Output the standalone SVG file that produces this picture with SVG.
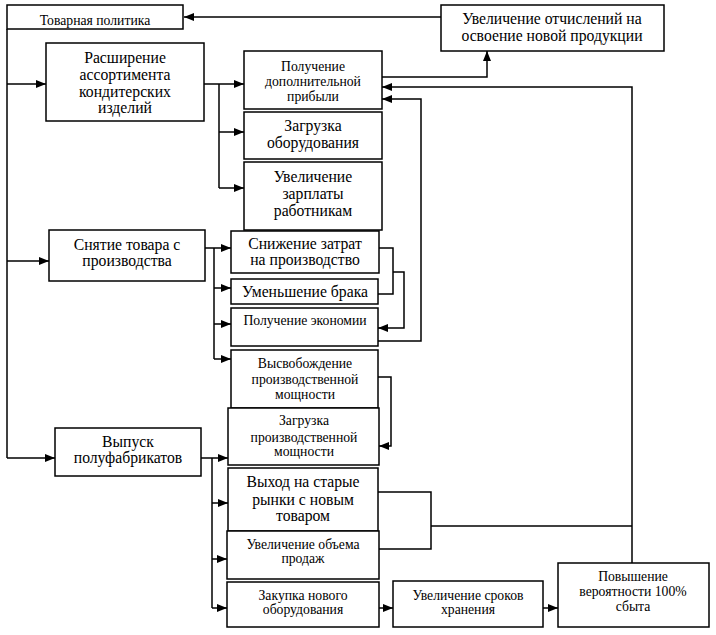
<svg xmlns="http://www.w3.org/2000/svg" width="716" height="635" viewBox="0 0 716 635">
<style>
.b{fill:#fff;stroke:#000;stroke-width:1.5}
.t{font-family:'Liberation Serif','Times New Roman',serif;font-size:15.7px;text-anchor:middle;fill:#000}
.s{font-size:13.7px}
.c path{fill:none;stroke:#000;stroke-width:1.5}
.a{marker-end:url(#ah)}
</style>
<defs>
<marker id="ah" markerUnits="userSpaceOnUse" markerWidth="10" markerHeight="8" refX="10" refY="4" orient="auto">
<path d="M0,0 L10,4 L0,8 z" fill="#000"/>
</marker>
</defs>
<rect width="716" height="635" fill="#fff"/>
<g class="c" id="connectors">
<path class="a" d="M441,17 H184"/>
<path d="M7,29 V458"/>
<path class="a" d="M7,84 H46"/>
<path class="a" d="M7,261 H49"/>
<path class="a" d="M7,458 H55"/>
<path class="a" d="M204,84 H244"/>
<path d="M219,84 V188"/>
<path class="a" d="M219,132 H244"/>
<path class="a" d="M219,188 H244"/>
<path class="a" d="M382,77 H487 V51"/>
<path class="a" d="M632,563 V87 H382"/>
<path d="M378,492 H431 V549 H379"/>
<path d="M431,526 H632"/>
<path class="a" d="M205,248 H231"/>
<path d="M214,248 V359"/>
<path class="a" d="M214,288 H231"/>
<path class="a" d="M214,324 H231"/>
<path class="a" d="M214,359 H231"/>
<path d="M379,248 H393 V294 H378"/>
<path class="a" d="M393,272 H404 V328 H378"/>
<path class="a" d="M378,341 H421 V99 H382"/>
<path class="a" d="M378,377 H391 V446 H379"/>
<path class="a" d="M201,458 H228"/>
<path d="M212,458 V608"/>
<path class="a" d="M212,503 H228"/>
<path class="a" d="M212,559 H227"/>
<path class="a" d="M212,608 H227"/>
<path class="a" d="M379,608 H393"/>
<path class="a" d="M543,608 H558"/>
</g>
<g id="n1"><rect class="b" x="7" y="5" width="176" height="24"/><text class="t s" x="95" y="25">Товарная политика</text></g>
<g id="n2"><rect class="b" x="441" y="5" width="223" height="46"/><text class="t" x="552" y="24">Увеличение отчислений на</text><text class="t" x="552" y="41">освоение новой продукции</text></g>
<g id="n3"><rect class="b" x="46" y="43" width="158" height="78"/><text class="t" x="125" y="63">Расширение</text><text class="t" x="125" y="80">ассортимента</text><text class="t" x="125" y="97">кондитерских</text><text class="t" x="125" y="113">изделий</text></g>
<g id="n4"><rect class="b" x="244" y="51" width="138" height="58"/><text class="t s" x="313" y="71">Получение</text><text class="t s" x="313" y="86">дополнительной</text><text class="t s" x="313" y="101">прибыли</text></g>
<g id="n5"><rect class="b" x="244" y="112" width="138" height="47"/><text class="t" x="313" y="131">Загрузка</text><text class="t" x="313" y="148">оборудования</text></g>
<g id="n6"><rect class="b" x="244" y="162" width="138" height="68"/><text class="t" x="313" y="182">Увеличение</text><text class="t" x="313" y="199">зарплаты</text><text class="t" x="313" y="216">работникам</text></g>
<g id="n7"><rect class="b" x="49" y="230" width="156" height="51"/><text class="t" x="127" y="250">Снятие товара с</text><text class="t" x="127" y="266">производства</text></g>
<g id="n8"><rect class="b" x="231" y="231" width="148" height="42"/><text class="t" x="305" y="249">Снижение затрат</text><text class="t" x="305" y="265">на производство</text></g>
<g id="n9"><rect class="b" x="231" y="279" width="147" height="25"/><text class="t" x="305" y="297">Уменьшение брака</text></g>
<g id="n10"><rect class="b" x="231" y="308" width="147" height="38"/><text class="t s" x="305" y="325">Получение экономии</text></g>
<g id="n11"><rect class="b" x="231" y="350" width="147" height="58"/><text class="t s" x="305" y="368">Высвобождение</text><text class="t s" x="305" y="384">производственной</text><text class="t s" x="305" y="399">мощности</text></g>
<g id="n12"><rect class="b" x="228" y="408" width="151" height="57"/><text class="t s" x="304" y="425">Загрузка</text><text class="t s" x="304" y="442">производственной</text><text class="t s" x="304" y="456">мощности</text></g>
<g id="n13"><rect class="b" x="55" y="428" width="146" height="48"/><text class="t" x="128" y="447">Выпуск</text><text class="t" x="128" y="463">полуфабрикатов</text></g>
<g id="n14"><rect class="b" x="228" y="468" width="150" height="63"/><text class="t" x="303" y="487">Выход на старые</text><text class="t" x="303" y="505">рынки с новым</text><text class="t" x="303" y="521">товаром</text></g>
<g id="n15"><rect class="b" x="227" y="531" width="152" height="48"/><text class="t s" x="303" y="549">Увеличение объема</text><text class="t s" x="303" y="563">продаж</text></g>
<g id="n16"><rect class="b" x="227" y="582" width="152" height="45"/><text class="t s" x="303" y="600">Закупка нового</text><text class="t s" x="303" y="614">оборудования</text></g>
<g id="n17"><rect class="b" x="393" y="581" width="150" height="46"/><text class="t s" x="468" y="600">Увеличение сроков</text><text class="t s" x="468" y="614">хранения</text></g>
<g id="n18"><rect class="b" x="558" y="563" width="151" height="64"/><text class="t s" x="633" y="581">Повышение</text><text class="t s" x="633" y="596">вероятности 100%</text><text class="t s" x="633" y="611">сбыта</text></g>
</svg>
